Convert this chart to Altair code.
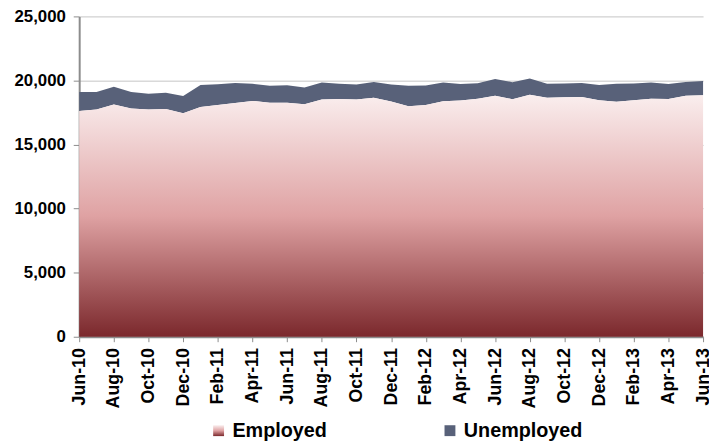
import altair as alt
import pandas as pd

months = ["Jun-10", "Jul-10", "Aug-10", "Sep-10", "Oct-10", "Nov-10", "Dec-10",
          "Jan-11", "Feb-11", "Mar-11", "Apr-11", "May-11", "Jun-11", "Jul-11",
          "Aug-11", "Sep-11", "Oct-11", "Nov-11", "Dec-11", "Jan-12", "Feb-12",
          "Mar-12", "Apr-12", "May-12", "Jun-12", "Jul-12", "Aug-12", "Sep-12",
          "Oct-12", "Nov-12", "Dec-12", "Jan-13", "Feb-13", "Mar-13", "Apr-13",
          "May-13", "Jun-13"]

employed = [17610, 17740, 18120, 17810, 17740, 17770, 17450, 17920, 18080, 18250,
            18400, 18270, 18270, 18150, 18510, 18560, 18510, 18660, 18350, 17990,
            18080, 18380, 18430, 18580, 18810, 18540, 18890, 18660, 18690, 18710,
            18460, 18330, 18460, 18580, 18560, 18810, 18840]

unemployed = [1490, 1360, 1390, 1290, 1230, 1280, 1340, 1720, 1630, 1560,
              1340, 1320, 1350, 1310, 1340, 1180, 1180, 1230, 1340, 1590,
              1530, 1470, 1290, 1210, 1310, 1330, 1260, 1080, 1080, 1100,
              1180, 1410, 1310, 1270, 1160, 1080, 1110]

series = ["Employed", "Unemployed"]
tick_months = months[::2]
y_ticks = [0, 5000, 10000, 15000, 20000, 25000]

df = pd.DataFrame({"month": months, "Employed": employed, "Unemployed": unemployed})
df["Total"] = df["Employed"] + df["Unemployed"]
df["series"] = "Unemployed"

FONT = "Liberation Sans"
UNEMP_COLOR = "#586179"
GRAD_STOPS = [("#faeeee", 0), ("#dfa2a3", 0.5), ("#7b282c", 1)]

emp_gradient = alt.Gradient(
    gradient="linear",
    stops=[alt.GradientStop(color=c, offset=o) for c, o in GRAD_STOPS],
    x1=0, x2=0, y1=0, y2=1,
)

stops_expr = ",".join("{offset:%s,color:'%s'}" % (o, c) for c, o in GRAD_STOPS)
legend_grad_expr = "{gradient:'linear',x1:0,y1:0,x2:0,y2:1,stops:[" + stops_expr + "]}"

x_enc = alt.X(
    "month:O",
    sort=months,
    scale=alt.Scale(type="point", padding=0),
    axis=alt.Axis(
        values=tick_months,
        labelAngle=-90,
        labelFont=FONT,
        labelFontSize=18,
        labelFontWeight="bold",
        labelColor="black",
        labelPadding=6,
        tickSize=5,
        tickColor="#8c8c8c",
        domainColor="#8c8c8c",
        domainWidth=2,
        grid=False,
        title=None,
    ),
)

y_scale = alt.Scale(domain=[0, 25000], nice=False)
y_axis = alt.Axis(
    values=y_ticks,
    labelExpr="format(datum.value, ',')",
    labelFont=FONT,
    labelFontSize=17,
    labelFontWeight="bold",
    labelColor="black",
    labelPadding=8,
    tickSize=6,
    tickColor="#8c8c8c",
    domainColor="#8c8c8c",
    domainWidth=2,
    gridColor="#c4c4c4",
    gridWidth=1,
    title=None,
)

base = alt.Chart(df)

unemp = base.mark_area(opacity=1).encode(
    x=x_enc,
    y=alt.Y("Total:Q", scale=y_scale, axis=y_axis),
    y2="Employed:Q",
    color=alt.Color(
        "series:N",
        scale=alt.Scale(domain=series, range=[alt.ExprRef(expr=legend_grad_expr), UNEMP_COLOR]),
        legend=alt.Legend(
            title=None,
            orient="none",
            direction="horizontal",
            legendX=131,
            legendY=409,
            symbolType="square",
            symbolSize=121,
            symbolStrokeWidth=0,
            symbolOpacity=1,
            labelFont=FONT,
            labelFontSize=20,
            labelFontWeight="bold",
            labelColor="black",
            labelOffset=4,
            columnPadding=114,
            padding=0,
        ),
    ),
)

emp = base.mark_area(color=emp_gradient, opacity=1).encode(
    x=x_enc,
    y=alt.Y("Employed:Q", scale=y_scale, axis=y_axis),
)

chart = alt.layer(unemp, emp).properties(
    width=631,
    height=324,
    autosize=alt.AutoSizeParams(type="none"),
    padding={"left": 72, "top": 6, "right": 6, "bottom": 107},
).configure_view(stroke=None)

chart.save("out.html", embed_options={"renderer": "svg", "actions": False})
